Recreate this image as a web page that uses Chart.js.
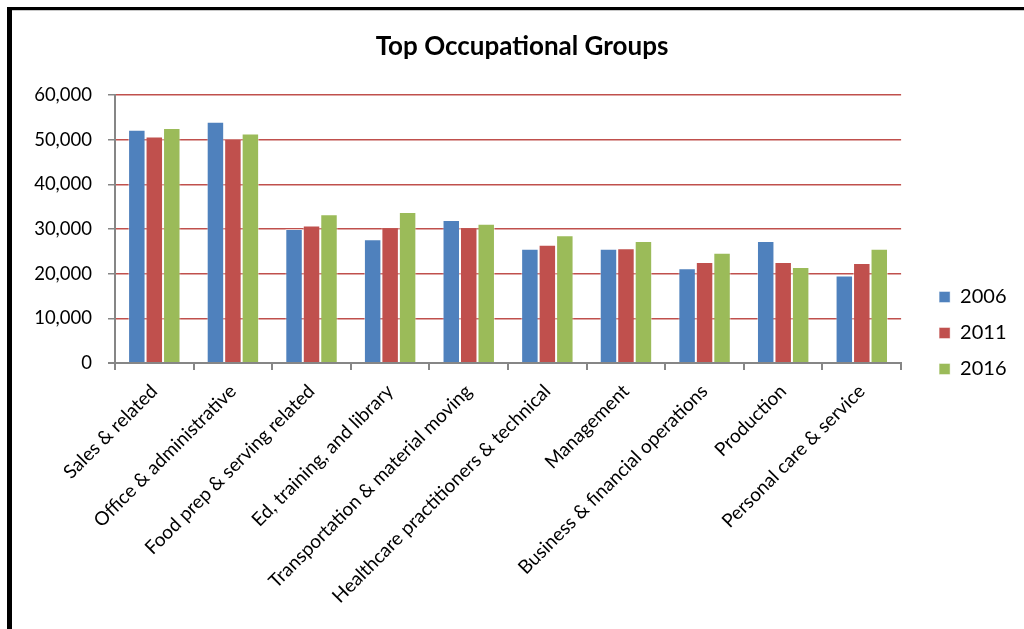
<!DOCTYPE html>
<html>
<head>
<meta charset="utf-8">
<script src="https://cdn.jsdelivr.net/npm/chart.js@4.4.1/dist/chart.umd.min.js"></script>
<style>
  html, body { margin: 0; padding: 0; background: #fff; overflow: hidden; }
  #wrap { position: relative; width: 1024px; height: 629px; }
  #frame {
    position: absolute; left: 7px; top: 7px; width: 1100px; height: 700px;
    border-left: 5px solid #000; border-top: 3px solid #000;
    box-shadow: inset 0 1px 0 #c8c8c8;
    pointer-events: none;
  }
</style>
</head>
<body>
<div id="wrap">
  <canvas id="groupsChart" width="1024" height="629"></canvas>
  <div id="frame"></div>
</div>
<script>
  // ======================= DATA =======================
  const categories = [
    'Sales & related',
    'Office & administrative',
    'Food prep & serving related',
    'Ed, training, and library',
    'Transportation & material moving',
    'Healthcare practitioners & technical',
    'Management',
    'Business & financial operations',
    'Production',
    'Personal care & service'
  ];
  const years = ['2006', '2011', '2016'];
  const values2006 = [52200, 54000, 30000, 27700, 32000, 25600, 25600, 21200, 27300, 19600];
  const values2011 = [50700, 50200, 30800, 30400, 30400, 26500, 25700, 22600, 22600, 22400];
  const values2016 = [52600, 51400, 33300, 33800, 31200, 28600, 27300, 24700, 21500, 25600];
  const yTicks = [0, 10000, 20000, 30000, 40000, 50000, 60000];

  const barColors = ['#4F81BD', '#C0504D', '#9BBB59'];
  const axisGray = '#868686';
  const gridRed = '#C0504D';
  const fontFamily = "Lato, 'Open Sans', sans-serif";

  // ======================= CHART =======================
  const ctx = document.getElementById('groupsChart').getContext('2d');

  new Chart(ctx, {
    type: 'bar',
    data: {
      labels: categories,
      datasets: [values2006, values2011, values2016].map((vals, i) => ({
        label: years[i],
        data: vals,
        backgroundColor: barColors[i],
        borderColor: 'rgba(255,255,255,0.45)',
        borderWidth: 1,
        categoryPercentage: 0.667,
        barPercentage: 1.0
      }))
    },
    options: {
      responsive: false,
      animation: false,
      layout: { padding: { left: 27.5, right: 7.5, top: 0, bottom: 0 } },
      scales: {
        x: {
          grid: {
            offset: true,
            drawOnChartArea: false,
            color: axisGray,
            lineWidth: 2,
            tickLength: 7
          },
          border: { color: axisGray, width: 2 },
          ticks: {
            color: '#000',
            autoSkip: false,
            minRotation: 45,
            maxRotation: 45,
            padding: 10,
            font: { family: fontFamily, size: 19 }
          },
          afterFit: scale => { scale.height = 266; }
        },
        y: {
          min: 0,
          max: 60000,
          afterBuildTicks: scale => { scale.ticks = yTicks.map(v => ({ value: v })); },
          grid: {
            color: c => (c.tick && c.tick.value === 0 ? axisGray : gridRed),
            lineWidth: c => (c.tick && c.tick.value === 0 ? 2 : 1.5),
            tickColor: axisGray,
            tickLength: 7
          },
          border: { color: axisGray, width: 2 },
          ticks: {
            color: '#000',
            padding: 16,
            font: { family: fontFamily, size: 18.5 },
            callback: v => v.toLocaleString('en-US')
          },
          afterFit: scale => { scale.width = 87.5; }
        },
        // spacer between plot area and legend
        gap: {
          type: 'linear',
          position: 'right',
          display: true,
          grid: { display: false },
          border: { display: false },
          ticks: { display: false },
          afterFit: scale => { scale.width = 22; }
        }
      },
      plugins: {
        title: {
          display: true,
          text: 'Top Occupational Groups',
          color: '#000',
          font: { family: fontFamily, size: 26, weight: 'bold' },
          padding: { top: 31.4, bottom: 32.4 }
        },
        legend: {
          position: 'right',
          // empty title only pushes the items down
          title: {
            display: true,
            text: '',
            font: { size: 10 },
            padding: { top: 25, bottom: 0 }
          },
          labels: {
            color: '#000',
            boxWidth: 11,
            boxHeight: 11,
            padding: 16,
            font: { family: fontFamily, size: 20 }
          }
        },
        tooltip: { enabled: false }
      }
    }
  });
</script>
</body>
</html>
